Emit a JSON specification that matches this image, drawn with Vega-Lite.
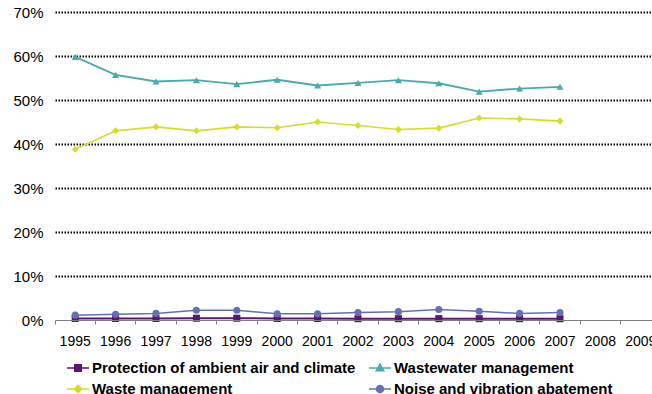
{
  "$schema": "https://vega.github.io/schema/vega-lite/v6.json",
  "autosize": {"type": "none"},
  "padding": {"left": 55, "top": 12, "right": 0, "bottom": 74},
  "width": 606,
  "height": 308,
  "background": "white",
  "config": {
    "view": {"stroke": null},
    "font": "Liberation Sans",
    "axis": {"labelFont": "Liberation Sans", "titleFont": "Liberation Sans"}
  },
  "data": {
    "values": [
      {"year": "1995", "series": "Protection of ambient air and climate", "value": 0.0035},
      {"year": "1996", "series": "Protection of ambient air and climate", "value": 0.0035},
      {"year": "1997", "series": "Protection of ambient air and climate", "value": 0.0035},
      {"year": "1998", "series": "Protection of ambient air and climate", "value": 0.004},
      {"year": "1999", "series": "Protection of ambient air and climate", "value": 0.004},
      {"year": "2000", "series": "Protection of ambient air and climate", "value": 0.0035},
      {"year": "2001", "series": "Protection of ambient air and climate", "value": 0.0035},
      {"year": "2002", "series": "Protection of ambient air and climate", "value": 0.003},
      {"year": "2003", "series": "Protection of ambient air and climate", "value": 0.003},
      {"year": "2004", "series": "Protection of ambient air and climate", "value": 0.003},
      {"year": "2005", "series": "Protection of ambient air and climate", "value": 0.003},
      {"year": "2006", "series": "Protection of ambient air and climate", "value": 0.003},
      {"year": "2007", "series": "Protection of ambient air and climate", "value": 0.003},
      {"year": "1995", "series": "Wastewater management", "value": 0.598},
      {"year": "1996", "series": "Wastewater management", "value": 0.557},
      {"year": "1997", "series": "Wastewater management", "value": 0.542},
      {"year": "1998", "series": "Wastewater management", "value": 0.545},
      {"year": "1999", "series": "Wastewater management", "value": 0.536},
      {"year": "2000", "series": "Wastewater management", "value": 0.546},
      {"year": "2001", "series": "Wastewater management", "value": 0.533},
      {"year": "2002", "series": "Wastewater management", "value": 0.539},
      {"year": "2003", "series": "Wastewater management", "value": 0.545},
      {"year": "2004", "series": "Wastewater management", "value": 0.538},
      {"year": "2005", "series": "Wastewater management", "value": 0.519},
      {"year": "2006", "series": "Wastewater management", "value": 0.526},
      {"year": "2007", "series": "Wastewater management", "value": 0.530},
      {"year": "1995", "series": "Waste management", "value": 0.388},
      {"year": "1996", "series": "Waste management", "value": 0.430},
      {"year": "1997", "series": "Waste management", "value": 0.439},
      {"year": "1998", "series": "Waste management", "value": 0.430},
      {"year": "1999", "series": "Waste management", "value": 0.439},
      {"year": "2000", "series": "Waste management", "value": 0.437},
      {"year": "2001", "series": "Waste management", "value": 0.450},
      {"year": "2002", "series": "Waste management", "value": 0.442},
      {"year": "2003", "series": "Waste management", "value": 0.433},
      {"year": "2004", "series": "Waste management", "value": 0.436},
      {"year": "2005", "series": "Waste management", "value": 0.459},
      {"year": "2006", "series": "Waste management", "value": 0.457},
      {"year": "2007", "series": "Waste management", "value": 0.452},
      {"year": "1995", "series": "Noise and vibration abatement", "value": 0.011},
      {"year": "1996", "series": "Noise and vibration abatement", "value": 0.013},
      {"year": "1997", "series": "Noise and vibration abatement", "value": 0.015},
      {"year": "1998", "series": "Noise and vibration abatement", "value": 0.022},
      {"year": "1999", "series": "Noise and vibration abatement", "value": 0.022},
      {"year": "2000", "series": "Noise and vibration abatement", "value": 0.014},
      {"year": "2001", "series": "Noise and vibration abatement", "value": 0.014},
      {"year": "2002", "series": "Noise and vibration abatement", "value": 0.017},
      {"year": "2003", "series": "Noise and vibration abatement", "value": 0.019},
      {"year": "2004", "series": "Noise and vibration abatement", "value": 0.024},
      {"year": "2005", "series": "Noise and vibration abatement", "value": 0.020},
      {"year": "2006", "series": "Noise and vibration abatement", "value": 0.015},
      {"year": "2007", "series": "Noise and vibration abatement", "value": 0.017}
    ]
  },
  "encoding": {
    "x": {
      "field": "year", "type": "ordinal",
      "scale": {"type": "band", "domain": ["1995","1996","1997","1998","1999","2000","2001","2002","2003","2004","2005","2006","2007","2008","2009"], "paddingInner": 0, "paddingOuter": 0},
      "axis": {
        "title": null, "labelAngle": 0, "bandPosition": 0, "labelFontSize": 14, "labelColor": "#000",
        "domainColor": "#808080", "tickColor": "#808080", "tickSize": 4, "labelPadding": 10, "grid": false, "zindex": 1
      }
    },
    "y": {
      "field": "value", "type": "quantitative",
      "scale": {"domain": [0, 0.7]},
      "axis": {
        "title": null, "format": "%", "values": [0,0.1,0.2,0.3,0.4,0.5,0.6,0.7], "labelFontSize": 15, "labelColor": "#000",
        "domain": false, "ticks": false, "labelPadding": 12,
        "grid": true, "gridColor": "#000", "gridWidth": 2, "gridDash": [1.5, 1.5],
        "gridOpacity": {"condition": {"test": "datum.value === 0", "value": 0}, "value": 1}
      }
    },
    "color": {
      "field": "series", "type": "nominal",
      "scale": {
        "domain": ["Protection of ambient air and climate", "Wastewater management", "Waste management", "Noise and vibration abatement"],
        "range": ["#5C1478", "#4BAAAD", "#D8DC2A", "#6670B4"]
      }
    }
  },
  "layer": [
    {
      "mark": {"type": "line"},
      "encoding": {
        "color": {"field": "series", "type": "nominal", "legend": null},
        "strokeWidth": {
          "field": "series", "type": "nominal", "legend": null,
          "scale": {
            "domain": ["Protection of ambient air and climate", "Wastewater management", "Waste management", "Noise and vibration abatement"],
            "range": [2, 1.5, 1.5, 1]
          }
        }
      }
    },
    {
      "mark": {"type": "point", "filled": true, "opacity": 1, "size": 50},
      "encoding": {
        "color": {"field": "series", "type": "nominal", "legend": null},
        "shape": {
          "field": "series", "type": "nominal", "legend": null,
          "scale": {
            "domain": ["Protection of ambient air and climate", "Wastewater management", "Waste management", "Noise and vibration abatement"],
            "range": ["square", "triangle-up", "diamond", "circle"]
          }
        }
      }
    },
    {
      "mark": {"type": "point", "filled": true, "opacity": 0},
      "encoding": {
        "color": {
          "field": "series", "type": "nominal",
          "legend": {
            "title": null, "orient": "none", "legendX": 11, "legendY": 344, "columns": 2, "direction": "horizontal",
            "labelFont": "Liberation Sans", "labelFontSize": 15, "labelFontWeight": "bold", "labelColor": "#000",
            "symbolSize": 484, "symbolStrokeWidth": 1.5, "labelOffset": 2, "columnPadding": 10, "rowPadding": 1, "labelLimit": 400,
            "encode": {"symbols": {"update": {"stroke": {"scale": "color", "field": "value"}, "strokeWidth": {"value": 1.5}, "opacity": {"value": 1}}}}
          }
        },
        "shape": {
          "field": "series", "type": "nominal",
          "scale": {
            "domain": ["Protection of ambient air and climate", "Wastewater management", "Waste management", "Noise and vibration abatement"],
            "range": [
              "M-1,0H1M-0.3,-0.3H0.3V0.3H-0.3Z",
              "M-1,0H1M0,-0.36L0.34,0.24H-0.34Z",
              "M-1,0H1M0,-0.34L0.34,0L0,0.34L-0.34,0Z",
              "M-1,0H1M-0.32,0A0.32,0.32,0,1,0,0.32,0A0.32,0.32,0,1,0,-0.32,0Z"
            ]
          },
          "legend": {
            "title": null, "orient": "none", "legendX": 11, "legendY": 344, "columns": 2, "direction": "horizontal",
            "labelFont": "Liberation Sans", "labelFontSize": 15, "labelFontWeight": "bold", "labelColor": "#000",
            "symbolSize": 484, "symbolStrokeWidth": 1.5, "labelOffset": 2, "columnPadding": 10, "rowPadding": 1, "labelLimit": 400,
            "encode": {"symbols": {"update": {"stroke": {"scale": "color", "field": "value"}, "strokeWidth": {"value": 1.5}, "opacity": {"value": 1}}}}
          }
        }
      }
    }
  ],
  "resolve": {"scale": {"shape": "independent", "strokeWidth": "independent"}, "legend": {"color": "independent", "shape": "independent"}}
}
